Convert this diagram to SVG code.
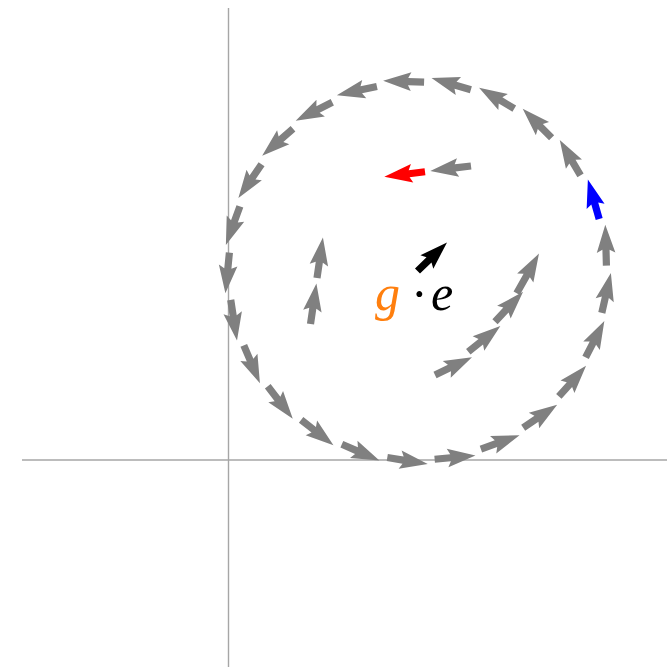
<svg xmlns="http://www.w3.org/2000/svg" width="667" height="667" viewBox="0 0 667 667">
<style>
.ax{stroke:#a6a6a6;stroke-width:1.4;fill:none}
.gr{fill:#808080}
.lbl{font-family:"Liberation Serif","DejaVu Serif",serif;font-size:50px}
</style>
<defs>
<path id="a" d="M0,-3.6 L16,-3.6 L13,-9.3 L41,0 L13,9.3 L16,3.6 L0,3.6 Z"/>
<use id="r" href="#a" transform="translate(606.5,271) rotate(-90)"/>
</defs>
<rect width="667" height="667" fill="#ffffff"/>
<g id="axes">
<line class="ax" x1="228.5" y1="8" x2="228.5" y2="667"/>
<line class="ax" x1="22" y1="460" x2="667" y2="460"/>
</g>
<g id="ring" class="gr">
<use href="#r" transform="rotate(-1.6 417.5 271)"/>
<use href="#r" transform="rotate(-16 417.5 271)" fill="#0000ff"/>
<use href="#r" transform="rotate(-30.4 417.5 271)"/>
<use href="#r" transform="rotate(-44.8 417.5 271)"/>
<use href="#r" transform="rotate(-59.2 417.5 271)"/>
<use href="#r" transform="rotate(-73.6 417.5 271)"/>
<use href="#r" transform="rotate(-88 417.5 271)"/>
<use href="#r" transform="rotate(-102.4 417.5 271)"/>
<use href="#r" transform="rotate(-116.8 417.5 271)"/>
<use href="#r" transform="rotate(-131.2 417.5 271)"/>
<use href="#r" transform="rotate(-145.6 417.5 271)"/>
<use href="#r" transform="rotate(-160 417.5 271)"/>
<use href="#r" transform="rotate(-174.4 417.5 271)"/>
<use href="#r" transform="rotate(-188.8 417.5 271)"/>
<use href="#r" transform="rotate(-203.2 417.5 271)"/>
<use href="#r" transform="rotate(-217.6 417.5 271)"/>
<use href="#r" transform="rotate(-232 417.5 271)"/>
<use href="#r" transform="rotate(-246.4 417.5 271)"/>
<use href="#r" transform="rotate(-260.8 417.5 271)"/>
<use href="#r" transform="rotate(-275.2 417.5 271)"/>
<use href="#r" transform="rotate(-289.6 417.5 271)"/>
<use href="#r" transform="rotate(-304 417.5 271)"/>
<use href="#r" transform="rotate(-318.4 417.5 271)"/>
<use href="#r" transform="rotate(-332.8 417.5 271)"/>
<use href="#r" transform="rotate(-347.2 417.5 271)"/>
</g>
<g id="inner" class="gr">
<use href="#a" transform="translate(317,278) rotate(-81.7)"/>
<use href="#a" transform="translate(310.5,324) rotate(-81.7)"/>
<use href="#a" transform="translate(435,375) rotate(-25.5)"/>
<use href="#a" transform="translate(468.3,351.7) rotate(-38.6)"/>
<use href="#a" transform="translate(495,321.7) rotate(-46.8)"/>
<path transform="translate(516.7,293.3) rotate(-60.7)" d="M0,-3.6 L20.5,-3.6 L17.5,-9.3 L45.5,0 L17.5,9.3 L20.5,3.6 L0,3.6 Z"/>
<use href="#a" transform="translate(471,166) rotate(173.1)"/>
<use href="#a" transform="translate(425,171.7) rotate(172.8)" fill="#ff0000"/>
<use href="#a" transform="translate(417.5,271) rotate(-44)" fill="#000000"/>
</g>
<g id="label" class="lbl">
<text x="375" y="310" font-style="italic" fill="#ff7f0e">g</text>
<text x="411" y="311" fill="#000000">·</text>
<text x="431" y="310" font-style="italic" fill="#000000">e</text>
</g>
</svg>
